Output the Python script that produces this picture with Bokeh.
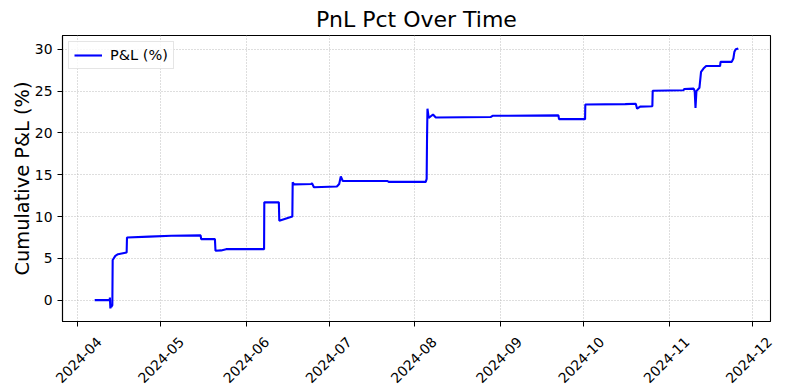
import pandas as pd
from math import pi
from bokeh.plotting import figure
from bokeh.layouts import row
from bokeh.models import Range1d, FixedTicker, Legend, LegendItem, LinearAxis, Spacer
from bokeh.embed import file_html
from bokeh.resources import INLINE

# ---- data ----
timestamps = [
    "2024-04-07 08:00", "2024-04-12 18:00", "2024-04-12 20:00", "2024-04-13 00:00",
    "2024-04-13 04:00", "2024-04-13 08:00", "2024-04-13 17:00", "2024-04-13 20:00",
    "2024-04-14 19:00", "2024-04-15 18:00", "2024-04-18 21:00", "2024-04-19 00:00",
    "2024-04-27 01:00", "2024-05-05 00:00", "2024-05-15 14:00", "2024-05-15 19:00",
    "2024-05-20 18:00", "2024-05-20 23:00", "2024-05-23 00:00", "2024-05-24 19:00",
    "2024-06-07 12:00", "2024-06-07 14:00", "2024-06-12 20:00", "2024-06-13 00:00",
    "2024-06-17 17:00", "2024-06-17 20:00", "2024-06-18 08:00", "2024-06-24 15:00",
    "2024-06-24 19:00", "2024-06-25 12:00", "2024-07-03 19:00", "2024-07-04 15:00",
    "2024-07-05 05:00", "2024-07-05 22:00", "2024-07-22 02:00", "2024-07-22 12:00",
    "2024-08-04 21:00", "2024-08-05 05:00", "2024-08-05 08:00", "2024-08-05 12:00",
    "2024-08-05 23:00", "2024-08-06 17:00", "2024-08-07 12:00", "2024-08-08 12:00",
    "2024-08-28 07:00", "2024-08-29 00:00", "2024-09-21 19:00", "2024-09-22 00:00",
    "2024-10-01 10:00", "2024-10-01 12:00", "2024-10-15 22:00", "2024-10-19 17:00",
    "2024-10-20 05:00", "2024-10-21 07:00", "2024-10-25 17:00", "2024-10-25 20:00",
    "2024-11-05 23:00", "2024-11-06 05:00", "2024-11-09 15:00", "2024-11-10 00:00",
    "2024-11-10 07:00", "2024-11-10 15:00", "2024-11-11 17:00", "2024-11-12 07:00",
    "2024-11-13 04:00", "2024-11-14 03:00", "2024-11-19 04:00", "2024-11-19 08:00",
    "2024-11-23 09:00", "2024-11-23 23:00", "2024-11-24 08:00", "2024-11-24 20:00",
    "2024-11-25 18:00",
]
pnl_pct = [
    0.0, 0.0, 0.3, -1.0,
    -0.5, -0.8, -0.6, 4.8,
    5.3, 5.5, 5.7, 7.5,
    7.6, 7.7, 7.75, 7.3,
    7.3, 5.9, 5.95, 6.1,
    6.1, 11.7, 11.7, 9.5,
    10.0, 14.1, 13.85, 13.9,
    14.0, 13.5, 13.6, 13.9,
    14.8, 14.25, 14.25, 14.15,
    14.15, 14.5, 19.0, 22.9,
    21.8, 22.0, 22.2, 21.85,
    21.9, 22.05, 22.1, 21.65,
    21.65, 23.4, 23.45, 23.5,
    22.9, 23.15, 23.2, 25.05,
    25.1, 25.25, 25.3, 25.0,
    23.0, 25.0, 25.4, 27.3,
    27.7, 28.0, 28.0, 28.5,
    28.5, 28.9, 29.7, 30.0,
    30.1,
]
month_ticks = ["2024-04-01", "2024-05-01", "2024-06-01", "2024-07-01", "2024-08-01",
               "2024-09-01", "2024-10-01", "2024-11-01", "2024-12-01"]
x_tick_labels = ["2024-04", "2024-05", "2024-06", "2024-07", "2024-08",
                 "2024-09", "2024-10", "2024-11", "2024-12"]
y_ticks = [0, 5, 10, 15, 20, 25, 30]
title_text = "PnL Pct Over Time"
y_label = "Cumulative P&L (%)"
series_label = "P&L (%)"

FONT = "DejaVu Sans"
FRAME_W, FRAME_H = 708, 286
SHIFT_FIRST_PX, SHIFT_LAST_PX = 22.0, 16.5  # moves rotated labels to sit centred on ticks

t = pd.to_datetime(timestamps)
tick_ms = [pd.Timestamp(m).value / 1e6 for m in month_ticks]

x0, x1 = t.min(), t.max()
xpad = (x1 - x0) * 0.05
xstart, xend = x0 - xpad, x1 + xpad
y0, y1 = min(pnl_pct), max(pnl_pct)
ypad = (y1 - y0) * 0.05
ystart, yend = y0 - ypad, y1 + ypad

p = figure(
    frame_width=FRAME_W, frame_height=FRAME_H,
    x_axis_type="datetime",
    x_range=Range1d(xstart, xend),
    y_range=Range1d(ystart, yend),
    output_backend="svg", toolbar_location=None,
    min_border_left=45, min_border_right=8, min_border_top=26, min_border_bottom=0,
)
p.background_fill_color = "white"
p.border_fill_color = "white"
p.outline_line_color = "black"
p.outline_line_width = 1.1

p.title.text = title_text
p.title.align = "center"
p.title.text_font = FONT
p.title.text_font_size = "22px"
p.title.text_font_style = "normal"
p.title.text_color = "black"
p.title.standoff = 8

r = p.line(t, pnl_pct, line_color="#0000ff", line_width=2.1)

p.xaxis.ticker = FixedTicker(ticks=tick_ms)
p.xaxis.major_label_overrides = {ms: "" for ms in tick_ms}
p.yaxis.ticker = FixedTicker(ticks=y_ticks)
p.yaxis.axis_label = y_label

for ax in (p.xaxis, p.yaxis):
    ax.axis_line_color = "black"
    ax.axis_line_width = 1.1
    ax.major_tick_in = 0
    ax.major_tick_out = 5
    ax.major_tick_line_color = "black"
    ax.minor_tick_line_color = None
    ax.major_label_text_font = FONT
    ax.major_label_text_font_size = "13.9px"
    ax.major_label_text_color = "black"
    ax.major_label_standoff = 5
    ax.axis_label_text_font = FONT
    ax.axis_label_text_font_size = "19.4px"
    ax.axis_label_text_font_style = "normal"
    ax.axis_label_text_color = "black"
p.yaxis.axis_label_standoff = -2
p.xaxis.major_label_standoff = 0

# label-only axis on its own (slightly offset) range, so the rotated labels
# sit centred under their ticks like matplotlib's rotated tick labels
xs_ms = xstart.value / 1e6
xe_ms = xend.value / 1e6
a0 = FRAME_W / (xe_ms - xs_ms)                     # px per ms of the main range
p_first = (tick_ms[0] - xs_ms) * a0 + SHIFT_FIRST_PX
p_last = (tick_ms[-1] - xs_ms) * a0 + SHIFT_LAST_PX
a1 = (p_last - p_first) / (tick_ms[-1] - tick_ms[0])
lab_start = tick_ms[0] - p_first / a1
lab_end = lab_start + FRAME_W / a1
p.extra_x_ranges = {"labels": Range1d(lab_start, lab_end)}
lab_axis = LinearAxis(x_range_name="labels", ticker=FixedTicker(ticks=tick_ms),
                      major_label_overrides=dict(zip(tick_ms, x_tick_labels)))
lab_axis.axis_line_color = None
lab_axis.major_tick_line_color = None
lab_axis.minor_tick_line_color = None
lab_axis.major_tick_in = 0
lab_axis.major_tick_out = 0
lab_axis.major_label_standoff = 13
lab_axis.major_label_orientation = pi / 4
lab_axis.major_label_text_font = FONT
lab_axis.major_label_text_font_size = "13.9px"
lab_axis.major_label_text_color = "black"
p.add_layout(lab_axis, "below")

for g in (p.xgrid, p.ygrid):
    g.grid_line_color = "#b4b4b4"
    g.grid_line_dash = [1, 2]
    g.grid_line_width = 0.9
    g.grid_line_alpha = 1.0
p.xgrid.ticker = FixedTicker(ticks=tick_ms)
p.ygrid.ticker = FixedTicker(ticks=y_ticks)

legend = Legend(items=[LegendItem(label=series_label, renderers=[r])], location="top_left")
legend.margin = 6
legend.padding = 5
legend.spacing = 0
legend.glyph_width = 28
legend.glyph_height = 16
legend.label_height = 16
legend.label_standoff = 8
legend.label_text_font = FONT
legend.label_text_font_size = "14.5px"
legend.label_text_color = "black"
legend.border_line_color = "#cccccc"
legend.border_line_width = 1
legend.background_fill_alpha = 0.8
p.add_layout(legend)

layout = row(Spacer(width=7, height=10), p)

open("out.html", "w").write(file_html(layout, INLINE))
